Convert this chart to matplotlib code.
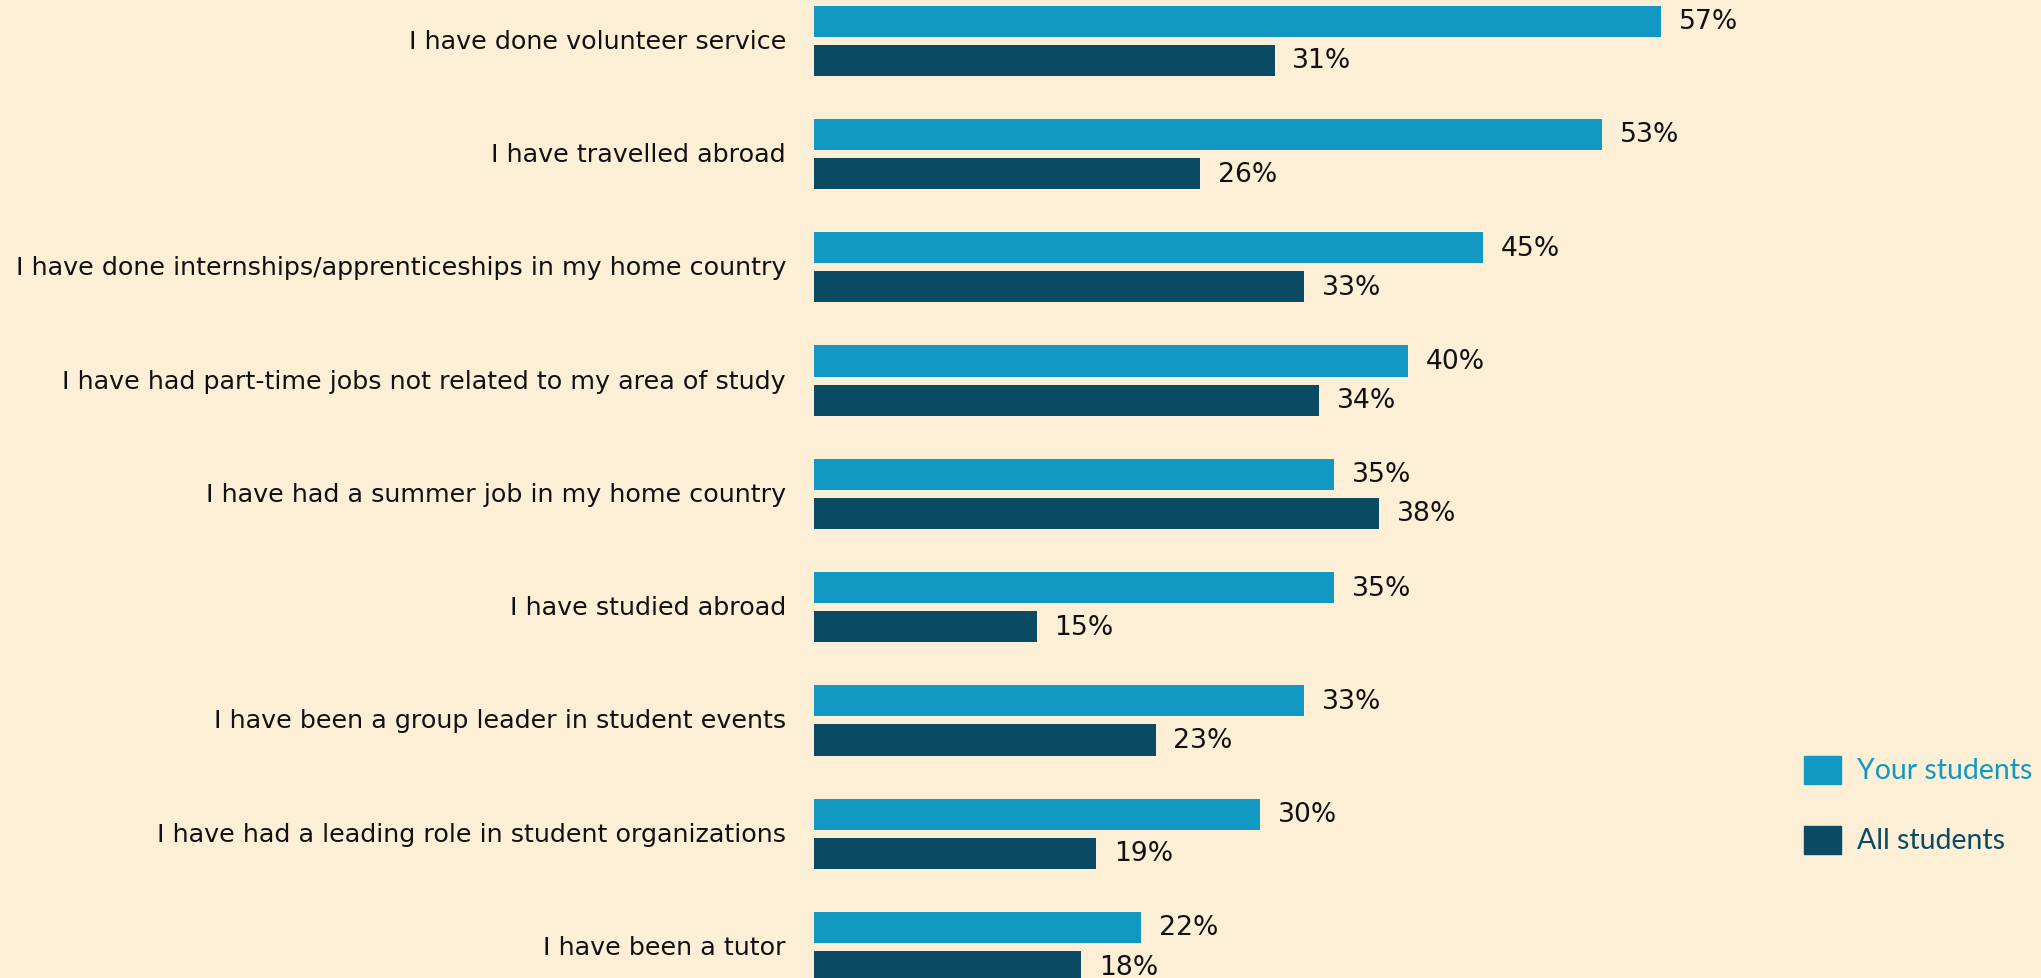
import matplotlib.pyplot as plt

# Survey items and shares (%)
items = [
    "I have done volunteer service",
    "I have travelled abroad",
    "I have done internships/apprenticeships in my home country",
    "I have had part-time jobs not related to my area of study",
    "I have had a summer job in my home country",
    "I have studied abroad",
    "I have been a group leader in student events",
    "I have had a leading role in student organizations",
    "I have been a tutor",
]
your_students = [57, 53, 45, 40, 35, 35, 33, 30, 22]
all_students = [31, 26, 33, 34, 38, 15, 23, 19, 18]

light = "#1198c3"
dark = "#094b62"
bg = "#fcefd5"

fig = plt.figure(figsize=(20.41, 9.79), dpi=100, facecolor=bg)
ax = fig.add_axes([0, 0, 1, 1])
ax.set_facecolor(bg)

pos = list(range(len(items)))
h = 0.275
off = 0.173
ax.barh([p - off for p in pos], your_students, height=h, color=light, label="Your students")
ax.barh([p + off for p in pos], all_students, height=h, color=dark, label="All students")

for p, v in zip(pos, your_students):
    ax.text(v + 1.2, p - off, f"{v}%", va="center", ha="left",
            fontsize=19.2, family="DejaVu Sans", color="#111111")
for p, v in zip(pos, all_students):
    ax.text(v + 1.2, p + off, f"{v}%", va="center", ha="left",
            fontsize=19.2, family="DejaVu Sans", color="#111111")

for p, name in zip(pos, items):
    ax.text(-1.85, p, name, va="center", ha="right",
            fontsize=18.25, family="DejaVu Sans", color="#111111")

ax.set_xlim(-54.71, 82.54)
ax.set_ylim(8.273, -0.368)
ax.axis("off")

# legend drawn by hand on the right
fig.patches.append(plt.Rectangle((1804 / 2041, 1 - 785 / 979), 37 / 2041, 28 / 979,
                                 transform=fig.transFigure, color=light))
fig.patches.append(plt.Rectangle((1804 / 2041, 1 - 855 / 979), 37 / 2041, 28 / 979,
                                 transform=fig.transFigure, color=dark))
fig.text(1857 / 2041, 1 - 771 / 979, "Your students", va="center", ha="left",
         fontsize=20.4, family="Lato", color=light)
fig.text(1857 / 2041, 1 - 841 / 979, "All students", va="center", ha="left",
         fontsize=20.4, family="Lato", color=dark)

fig.savefig("out.png", dpi=100, facecolor=bg)
